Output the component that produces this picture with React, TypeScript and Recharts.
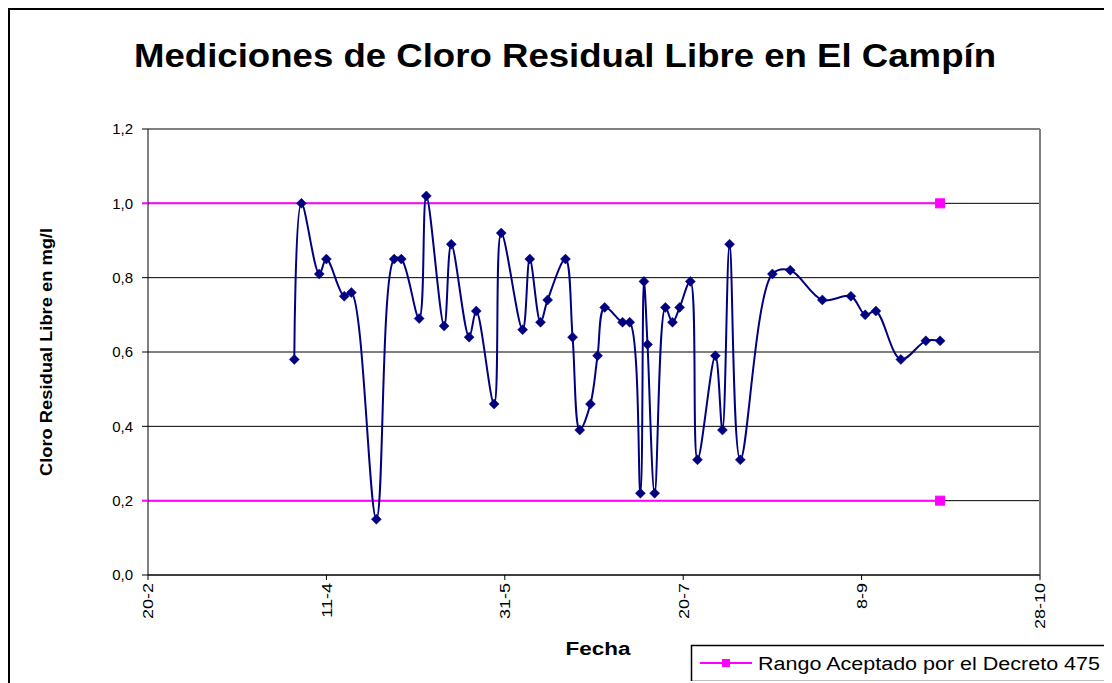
import React from "react";
import {
  LineChart,
  Line,
  XAxis,
  YAxis,
  CartesianGrid,
  ReferenceLine,
} from "recharts";

// Day offsets counted from 20 February (day 0)
const measureDays: number[] = [
  41, 43, 48, 50, 55, 57, 64, 69, 71, 76, 78, 83, 85, 90, 92, 97, 99, 105, 107,
  110, 112, 117, 119, 121, 124, 126, 128, 133, 135, 138, 139, 140, 142, 145, 147,
  149, 152, 154, 159, 161, 163, 166, 175, 180, 189, 197, 201, 204, 211, 218, 222,
];

// Free residual chlorine, mg/l
const chlorineValues: number[] = [
  0.58, 1.0, 0.81, 0.85, 0.75, 0.76, 0.15, 0.85, 0.85, 0.69, 1.02, 0.67, 0.89,
  0.64, 0.71, 0.46, 0.92, 0.66, 0.85, 0.68, 0.74, 0.85, 0.64, 0.39, 0.46, 0.59,
  0.72, 0.68, 0.68, 0.22, 0.79, 0.62, 0.22, 0.72, 0.68, 0.72, 0.79, 0.31, 0.59,
  0.39, 0.89, 0.31, 0.81, 0.82, 0.74, 0.75, 0.7, 0.71, 0.58, 0.63, 0.63,
];

// Accepted range (Decreto 475)
const rangeDays: number[] = [0, 222];
const rangeUpper: number[] = [1.0, 1.0];
const rangeLower: number[] = [0.2, 0.2];

const xTickDays: number[] = [0, 50, 100, 150, 200, 250];
const xTickLabels: string[] = ["20-2", "11-4", "31-5", "20-7", "8-9", "28-10"];
const yTicks: number[] = [0, 0.2, 0.4, 0.6, 0.8, 1.0, 1.2];

const TITLE = "Mediciones de Cloro Residual Libre en El Campín";
const Y_TITLE = "Cloro Residual Libre en mg/l";
const X_TITLE = "Fecha";
const LEGEND_LABEL = "Rango Aceptado por el Decreto 475";

const mainData = measureDays.map((d, i) => ({ d, v: chlorineValues[i] }));
const upperData = rangeDays.map((d, i) => ({ d, v: rangeUpper[i] }));
const lowerData = rangeDays.map((d, i) => ({ d, v: rangeLower[i] }));

const FONT = "'Liberation Sans', Arial, sans-serif";
const NAVY = "#000080";
const MAGENTA = "#FF00FF";

// Centripetal Catmull-Rom smoothing (like a spreadsheet "smoothed line")
function smoothCurve(context: any) {
  const alpha = 0.5;
  const EPS = 1e-12;
  let x0 = NaN, y0 = NaN, x1 = NaN, y1 = NaN, x2 = NaN, y2 = NaN;
  let l01a = 0, l12a = 0, l23a = 0, l01_2a = 0, l12_2a = 0, l23_2a = 0;
  let state = 0;
  const seg = (x: number, y: number) => {
    let cx1 = x1, cy1 = y1, cx2 = x2, cy2 = y2;
    if (l01a > EPS) {
      const a = 2 * l01_2a + 3 * l01a * l12a + l12_2a;
      const n = 3 * l01a * (l01a + l12a);
      cx1 = (x1 * a - x0 * l12_2a + x2 * l01_2a) / n;
      cy1 = (y1 * a - y0 * l12_2a + y2 * l01_2a) / n;
    }
    if (l23a > EPS) {
      const b = 2 * l23_2a + 3 * l23a * l12a + l12_2a;
      const m = 3 * l23a * (l23a + l12a);
      cx2 = (x2 * b + x1 * l23_2a - x * l12_2a) / m;
      cy2 = (y2 * b + y1 * l23_2a - y * l12_2a) / m;
    }
    context.bezierCurveTo(cx1, cy1, cx2, cy2, x2, y2);
  };
  const api = {
    areaStart() {},
    areaEnd() {},
    lineStart() {
      x0 = x1 = x2 = y0 = y1 = y2 = NaN;
      l01a = l12a = l23a = l01_2a = l12_2a = l23_2a = 0;
      state = 0;
    },
    point(xx: number, yy: number) {
      const x = +xx, y = +yy;
      if (state) {
        const dx = x2 - x, dy = y2 - y;
        l23_2a = Math.pow(dx * dx + dy * dy, alpha);
        l23a = Math.sqrt(l23_2a);
      }
      switch (state) {
        case 0:
          state = 1;
          context.moveTo(x, y);
          break;
        case 1:
          state = 2;
          break;
        case 2:
          state = 3;
          seg(x, y);
          break;
        default:
          seg(x, y);
          break;
      }
      l01a = l12a; l12a = l23a;
      l01_2a = l12_2a; l12_2a = l23_2a;
      x0 = x1; x1 = x2; x2 = x;
      y0 = y1; y1 = y2; y2 = y;
    },
    lineEnd() {
      if (state === 2) context.lineTo(x2, y2);
      else if (state === 3) api.point(x2, y2);
    },
  };
  return api;
}

const DiamondDot = (props: any) => {
  const { cx, cy, index } = props;
  if (cx == null || cy == null) return <g key={`dd${index}`} />;
  const r = 5;
  return (
    <polygon
      key={`dd${index}`}
      points={`${cx},${cy - r} ${cx + r},${cy} ${cx},${cy + r} ${cx - r},${cy}`}
      fill={NAVY}
      stroke={NAVY}
      strokeWidth={0.5}
    />
  );
};

const makeSquareEnd = (lastIndex: number) => (props: any) => {
  const { cx, cy, index } = props;
  if (index !== lastIndex || cx == null) return <g key={`sq${index}`} />;
  const s = 4.5;
  return (
    <rect
      key={`sq${index}`}
      x={cx - s}
      y={cy - s}
      width={s * 2}
      height={s * 2}
      fill={MAGENTA}
      stroke={MAGENTA}
    />
  );
};

const fmtY = (v: number) => v.toFixed(1).replace(".", ",");

const Y_TICK_SIZE = 6;
const Y_TICK_MARGIN = 9;

const YTick = (props: any) => {
  const { x, y, payload } = props;
  const v = payload.value;
  const isRange = rangeUpper.includes(v) || rangeLower.includes(v);
  return (
    <g>
      {isRange && (
        <line
          x1={x + Y_TICK_MARGIN}
          x2={x + Y_TICK_MARGIN + Y_TICK_SIZE}
          y1={y}
          y2={y}
          stroke={MAGENTA}
          strokeWidth={2}
        />
      )}
      <text
        x={x}
        y={y}
        dy="0.36em"
        textAnchor="end"
        fontFamily={FONT}
        fontSize={15}
        fill="#000"
      >
        {fmtY(v)}
      </text>
    </g>
  );
};

const XTick = (props: any) => {
  const { x, y, payload } = props;
  const idx = xTickDays.indexOf(payload.value);
  const label = idx >= 0 ? xTickLabels[idx] : String(payload.value);
  return (
    <text
      transform={`translate(${x},${y}) rotate(-90) scale(1.2,1)`}
      dy="0.36em"
      textAnchor="end"
      fontFamily={FONT}
      fontSize={15}
      fill="#000"
    >
      {label}
    </text>
  );
};

export default function App() {
  const W = 1100;
  const H = 671;
  return (
    <div
      style={{
        position: "relative",
        width: 1110,
        height: 680,
        border: "2px solid #000",
        background: "#fff",
      }}
    >
      <LineChart
        width={W}
        height={H}
        margin={{ top: 119, right: 70, left: 0, bottom: 56 }}
      >
        <CartesianGrid
          horizontal={true}
          vertical={false}
          stroke="#000"
          strokeWidth={1}
        />
        <XAxis
          type="number"
          dataKey="d"
          domain={[0, 250]}
          ticks={xTickDays}
          interval={0}
          allowDataOverflow
          height={50}
          tickSize={5}
          tickMargin={3}
          stroke="#000"
          tick={<XTick />}
        />
        <YAxis
          type="number"
          dataKey="v"
          domain={[0, 1.2]}
          ticks={yTicks}
          interval={0}
          width={138}
          tickSize={Y_TICK_SIZE}
          tickMargin={Y_TICK_MARGIN}
          stroke="#000"
          tick={<YTick />}
        />
        <ReferenceLine y={1.2} stroke="#808080" strokeWidth={2} />
        <ReferenceLine x={250} stroke="#808080" strokeWidth={2} />
        <Line
          data={upperData}
          dataKey="v"
          type="linear"
          stroke={MAGENTA}
          strokeWidth={2}
          dot={makeSquareEnd(upperData.length - 1)}
          activeDot={false}
          isAnimationActive={false}
        />
        <Line
          data={lowerData}
          dataKey="v"
          type="linear"
          stroke={MAGENTA}
          strokeWidth={2}
          dot={makeSquareEnd(lowerData.length - 1)}
          activeDot={false}
          isAnimationActive={false}
        />
        <Line
          data={mainData}
          dataKey="v"
          type={smoothCurve as any}
          stroke={NAVY}
          strokeWidth={2}
          dot={<DiamondDot />}
          activeDot={false}
          isAnimationActive={false}
        />
      </LineChart>
      <svg
        width={W}
        height={H}
        style={{ position: "absolute", left: 0, top: 0, pointerEvents: "none" }}
      >
        <text
          x={555}
          y={57}
          textAnchor="middle"
          fontFamily={FONT}
          fontWeight="bold"
          fontSize={33}
          textLength={862}
          lengthAdjust="spacingAndGlyphs"
          fill="#000"
        >
          {TITLE}
        </text>
        <text
          transform="translate(42,342) rotate(-90)"
          textAnchor="middle"
          fontFamily={FONT}
          fontWeight="bold"
          fontSize={16}
          textLength={248}
          lengthAdjust="spacingAndGlyphs"
          fill="#000"
        >
          {Y_TITLE}
        </text>
        <text
          x={588}
          y={645}
          textAnchor="middle"
          fontFamily={FONT}
          fontWeight="bold"
          fontSize={18}
          textLength={65}
          lengthAdjust="spacingAndGlyphs"
          fill="#000"
        >
          {X_TITLE}
        </text>
        <g>
          <rect x={681.5} y={635.5} width={417} height={36} fill="#fff" stroke="#000" strokeWidth={1.5} />
          <line x1={690} x2={742} y1={653} y2={653} stroke={MAGENTA} strokeWidth={2} />
          <rect x={712} y={649} width={8} height={8} fill={MAGENTA} />
          <text
            x={748}
            y={659.5}
            fontFamily={FONT}
            fontSize={18}
            textLength={342}
            lengthAdjust="spacingAndGlyphs"
            fill="#000"
          >
            {LEGEND_LABEL}
          </text>
        </g>
      </svg>
    </div>
  );
}
